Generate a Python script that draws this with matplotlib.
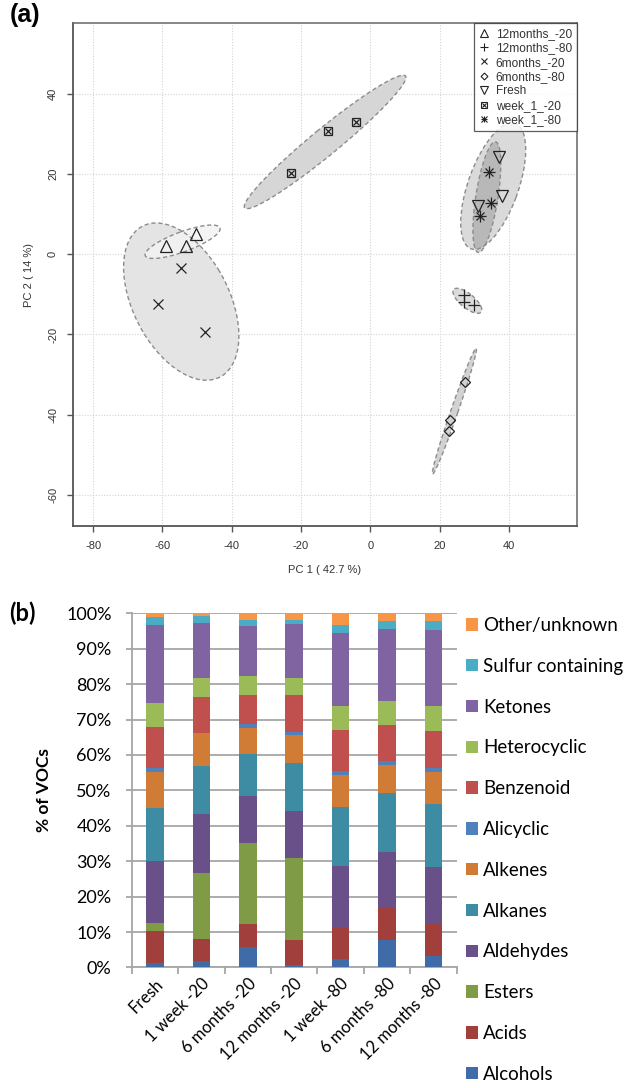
import numpy as np
import matplotlib
matplotlib.use("Agg")
import matplotlib.pyplot as plt
from matplotlib.patches import Ellipse
from matplotlib.lines import Line2D

plt.rcParams["axes.unicode_minus"] = False

# ---- (a) PCA scores ----
groups = ["12months_-20", "12months_-80", "6months_-20", "6months_-80",
          "Fresh", "week_1_-20", "week_1_-80"]
pc1 = {
    "12months_-20": [-59.0, -53.2, -50.3],
    "12months_-80": [27.1, 27.0, 30.0],
    "6months_-20": [-54.5, -61.4, -47.8],
    "6months_-80": [27.3, 22.9, 22.7],
    "Fresh": [37.3, 38.1, 31.1],
    "week_1_-20": [-23.0, -12.1, -4.0],
    "week_1_-80": [34.3, 34.9, 31.8],
}
pc2 = {
    "12months_-20": [2.1, 2.2, 5.1],
    "12months_-80": [-10.2, -11.9, -12.7],
    "6months_-20": [-3.5, -12.4, -19.5],
    "6months_-80": [-31.9, -41.4, -44.1],
    "Fresh": [24.3, 14.6, 12.1],
    "week_1_-20": [20.3, 30.7, 33.1],
    "week_1_-80": [20.5, 12.8, 9.5],
}

# ---- (b) VOC class composition (%) ----
samples = ["Fresh", "1 week -20", "6 months -20", "12 months -20",
           "1 week -80", "6 months -80", "12 months -80"]
classes = ["Alcohols", "Acids", "Esters", "Aldehydes", "Alkanes", "Alkenes",
           "Alicyclic", "Benzenoid", "Heterocyclic", "Ketones",
           "Sulfur containing", "Other/unknown"]
alcohols = [1.2, 1.9, 5.7, 0.8, 2.3, 7.8, 3.3]
acids = [9.2, 6.2, 6.6, 7.0, 9.1, 9.1, 9.2]
esters = [2.1, 18.7, 22.9, 23.0, 0.0, 0.0, 0.0]
aldehydes = [17.6, 16.4, 13.1, 13.5, 17.2, 15.8, 16.0]
alkanes = [14.9, 13.8, 12.0, 13.5, 16.7, 16.7, 17.6]
alkenes = [10.2, 9.1, 7.2, 7.7, 9.1, 7.9, 9.0]
alicyclic = [1.1, 0.2, 1.2, 1.0, 1.1, 1.0, 1.2]
benzenoid = [11.6, 10.0, 8.3, 10.5, 11.6, 10.3, 10.5]
heterocyclic = [6.9, 5.4, 5.4, 4.7, 6.7, 6.7, 7.0]
ketones = [21.9, 15.7, 13.9, 15.4, 20.7, 20.3, 21.4]
sulfur = [2.3, 1.9, 1.8, 1.1, 2.1, 2.1, 2.5]
other = [1.0, 0.7, 1.9, 1.8, 3.4, 2.3, 2.3]

class_values = [alcohols, acids, esters, aldehydes, alkanes, alkenes,
                alicyclic, benzenoid, heterocyclic, ketones, sulfur, other]
class_colors = ["#3F6CA6", "#A13F3D", "#7F9B46", "#6A5088", "#3D8CA3",
                "#D07C36", "#4F81BD", "#C0504D", "#9BBB59", "#8064A2",
                "#4BACC6", "#F79646"]

fig = plt.figure(figsize=(6.3, 10.88), dpi=100)

# ================= panel (a) =================
ax1 = fig.add_axes([0.1154, 0.5165, 0.800, 0.4623])

marker_style = {
    "12months_-20": [dict(marker="^", ms=8.5)],
    "12months_-80": [dict(marker="+", ms=8.5)],
    "6months_-20": [dict(marker="x", ms=7)],
    "6months_-80": [dict(marker="D", ms=5.6)],
    "Fresh": [dict(marker="v", ms=8.5)],
    "week_1_-20": [dict(marker="s", ms=6.0), dict(marker="x", ms=4.5)],
    "week_1_-80": [dict(marker="+", ms=8), dict(marker="x", ms=6)],
}
fill_colors = {
    "6months_-20": ("#e4e4e4", 1.0),
    "12months_-20": ("#f3f3f3", 0.85),
    "12months_-80": ("#dcdcdc", 1.0),
    "6months_-80": ("#d2d2d2", 1.0),
    "Fresh": ("#dadada", 1.0),
    "week_1_-20": ("#d6d6d6", 1.0),
    "week_1_-80": ("#8a8a8a", 0.42),
}
draw_order = ["6months_-20", "12months_-20", "12months_-80", "6months_-80",
              "week_1_-20", "Fresh", "week_1_-80"]

# 95% confidence ellipses from each group's covariance
k95 = np.sqrt(-2 * np.log(0.05))
for i, g in enumerate(draw_order):
    pts = np.column_stack([pc1[g], pc2[g]])
    mu = pts.mean(axis=0)
    cov = np.cov(pts.T)
    vals, vecs = np.linalg.eigh(cov)
    angle = np.degrees(np.arctan2(vecs[1, 1], vecs[0, 1]))
    w = 2 * k95 * np.sqrt(vals[1])
    h = 2 * k95 * np.sqrt(max(vals[0], 1e-6))
    fc, a = fill_colors[g]
    ax1.add_patch(Ellipse(mu, w, h, angle=angle, facecolor=fc, alpha=a,
                          edgecolor="none", zorder=1 + i * 0.01))
    ax1.add_patch(Ellipse(mu, w, h, angle=angle, facecolor="none",
                          edgecolor="#8c8c8c", linestyle=(0, (3, 2)),
                          linewidth=1.0, zorder=1.5))

handles = []
for g in groups:
    hs = []
    for st in marker_style[g]:
        ax1.plot(pc1[g], pc2[g], linestyle="none", color="#222222",
                 markerfacecolor="none", mew=0.9, zorder=3, **st)
        hs.append(Line2D([], [], linestyle="none", color="#222222",
                         markerfacecolor="none", mew=0.8,
                         marker=st["marker"], ms=st["ms"] * 0.62))
    handles.append(tuple(hs))

ax1.set_xlim(-85.9, 59.6)
ax1.set_ylim(-67.8, 57.7)
ax1.set_xticks([-80, -60, -40, -20, 0, 20, 40])
ax1.set_yticks([-60, -40, -20, 0, 20, 40])
ax1.grid(True, color="#d4d4d4", linestyle=(0, (1, 1.5)), linewidth=0.8)
ax1.set_axisbelow(True)
for s in ["left", "bottom"]:
    ax1.spines[s].set_color("#555555")
    ax1.spines[s].set_linewidth(1.3)
for s in ["top", "right"]:
    ax1.spines[s].set_color("#666666")
    ax1.spines[s].set_linewidth(1.1)
ax1.tick_params(direction="out", length=4.5, width=1.0, color="#555555",
                labelsize=8, labelcolor="#333333", pad=6)
for lab in ax1.get_xticklabels() + ax1.get_yticklabels():
    lab.set_family("Liberation Sans")
for lab in ax1.get_yticklabels():
    lab.set_rotation(90)
    lab.set_va("center")
ax1.set_xlabel("PC 1 ( 42.7 %)", fontsize=8, color="#333333", labelpad=10,
               family="Liberation Sans")
ax1.set_ylabel("PC 2 ( 14 %)", fontsize=8, color="#333333", labelpad=10,
               family="Liberation Sans")

leg1 = ax1.legend(handles, groups, loc="upper right",
                  prop={"family": "Liberation Sans", "size": 8.6},
                  frameon=True, fancybox=False, borderpad=0.4,
                  labelspacing=0.2, handlelength=0.9, handletextpad=0.5,
                  borderaxespad=0)
leg1.get_frame().set_edgecolor("#333333")
leg1.get_frame().set_linewidth(0.9)
for t in leg1.get_texts():
    t.set_color("#333333")

fig.text(0.015, 0.997, "(a)", fontsize=18, fontweight="bold",
         family="Liberation Sans", va="top", ha="left")

# ================= panel (b) =================
ax2 = fig.add_axes([0.209, 0.1108, 0.516, 0.3255])
x = np.arange(len(samples))
bottom = np.zeros(len(samples))
bars = []
for vals, lab, col in zip(class_values, classes, class_colors):
    v = np.array(vals) / 100.0
    b = ax2.bar(x, v, width=0.38, bottom=bottom, color=col, label=lab,
                zorder=3)
    bars.append(b)
    bottom += v

ax2.set_xlim(-0.5, len(samples) - 0.5)
ax2.set_ylim(0, 1)
yt = np.arange(0, 1.01, 0.1)
ax2.set_yticks(yt)
ax2.set_yticklabels([f"{int(round(t * 100))}%" for t in yt])
ax2.yaxis.grid(True, color="#a6a6a6", linewidth=1.3, zorder=0)
ax2.set_axisbelow(True)
ax2.set_xticks(np.arange(-0.5, len(samples)), minor=False)
ax2.set_xticklabels([])
ax2.set_xticks(x, minor=True)
ax2.set_xticklabels(samples, minor=True, rotation=45, ha="right",
                    va="top", rotation_mode="anchor", fontsize=12,
                    family="Lato")
ax2.tick_params(axis="x", which="major", direction="out", length=5,
                color="#a6a6a6", width=1.3)
ax2.tick_params(axis="x", which="minor", length=0, pad=6)
ax2.tick_params(axis="y", direction="out", length=4.5, width=1.3,
                color="#a6a6a6", labelsize=13, pad=10)
for lab in ax2.get_yticklabels():
    lab.set_family("Lato")
for s in ["top", "right"]:
    ax2.spines[s].set_visible(False)
for s in ["left", "bottom"]:
    ax2.spines[s].set_color("#a6a6a6")
    ax2.spines[s].set_linewidth(1.3)
ax2.set_ylabel("% of VOCs", fontsize=12.5, fontweight="bold",
               family="Lato", labelpad=10)

leg2 = ax2.legend([b[0] for b in bars[::-1]], classes[::-1],
                  loc="upper left", bbox_to_anchor=(0.739, 0.433),
                  bbox_transform=fig.transFigure, frameon=False,
                  prop={"family": "Lato", "size": 13.5},
                  handlelength=0.64, handleheight=0.64, handletextpad=0.3,
                  labelspacing=1.27, borderpad=0, borderaxespad=0)

fig.text(0.015, 0.4363, "(b)", fontsize=17, fontweight="bold",
         family="Lato", va="center", ha="left")

fig.savefig("out.png", dpi=100)
